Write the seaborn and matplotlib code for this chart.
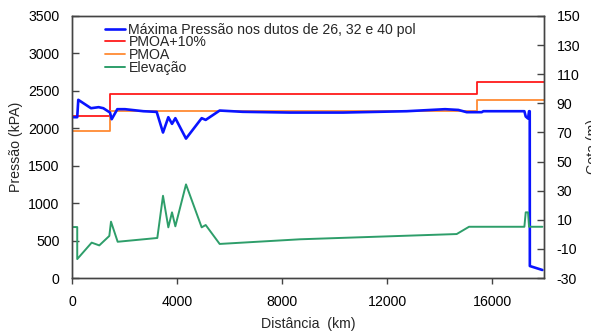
import matplotlib
matplotlib.use("Agg")
import matplotlib.pyplot as plt
import seaborn as sns
import pandas as pd

# Maximum pressure along the pipeline (kPa)
dist_p = [0, 200, 240, 724, 1016, 1194, 1448, 1512, 1727, 2019, 2717, 3226,
          3467, 3670, 3810, 3937, 4343, 4940, 5093, 5625, 6500, 8305, 10324,
          12750, 14210, 14717, 15036, 15607, 15670, 17232, 17283, 17371,
          17410, 17436, 17440, 17918]
pressure = [2148, 2148, 2380, 2268, 2282, 2268, 2210, 2121, 2255, 2255, 2228,
            2219, 1943, 2148, 2059, 2135, 1862, 2135, 2112, 2237, 2220, 2210,
            2210, 2228, 2255, 2245, 2215, 2215, 2228, 2228, 2157, 2130, 2228,
            2228, 160, 107]

# Maximum allowable operating pressure (stepwise) and +10 %
dist_step = [0, 1450, 1450, 15420, 15420, 17980]
pmoa = [1965, 1965, 2230, 2230, 2380, 2380]
pmoa10 = [2160, 2160, 2453, 2453, 2618, 2618]

# Terrain elevation (m)
dist_e = [0, 200, 200, 750, 1040, 1422, 1486, 1740, 3250, 3467, 3670, 3810,
          3937, 4343, 4940, 5093, 5625, 8686, 14654, 15124, 17232, 17283,
          17371, 17410, 17918]
elev = [5, 5, -17, -5.7, -7.6, -1.1, 8.7, -5.1, -2.5, 26.5, 4.8, 15.1, 5.5,
        34.3, 4.8, 6.4, -6.6, -3.4, 0.2, 5.2, 5.2, 15.1, 15.1, 5.2, 5.2]

x_ticks = [0, 4000, 8000, 12000, 16000]
left_ticks = [0, 500, 1000, 1500, 2000, 2500, 3000, 3500]
right_ticks = [-30, -10, 10, 30, 50, 70, 90, 110, 130, 150]

sns.set_theme(style="white")
plt.rcParams["font.family"] = ["Liberation Sans", "DejaVu Sans"]
plt.rcParams["axes.unicode_minus"] = False

FS = 10.2

fig = plt.figure(figsize=(5.91, 3.31), dpi=100)
ax = fig.add_axes([0.1218, 0.1601, 0.7987, 0.7916])
ax2 = ax.twinx()

df_p = pd.DataFrame({"d": dist_p, "v": pressure})
df_s = pd.DataFrame({"d": dist_step, "a": pmoa, "b": pmoa10})
df_e = pd.DataFrame({"d": dist_e, "v": elev})

blue, red, orange, green = "#0a14ff", "#ff1a1a", "#ff8a33", "#2e9e6a"

sns.lineplot(data=df_s, x="d", y="b", ax=ax, sort=False, color=red,
             linewidth=1.3, estimator=None)
sns.lineplot(data=df_s, x="d", y="a", ax=ax, sort=False, color=orange,
             linewidth=1.3, estimator=None)
sns.lineplot(data=df_p, x="d", y="v", ax=ax, sort=False, color=blue,
             linewidth=1.9, estimator=None)
sns.lineplot(data=df_e, x="d", y="v", ax=ax2, sort=False, color=green,
             linewidth=1.4, estimator=None)

ax.set_xlim(0, 17980)
ax.set_ylim(0, 3500)
ax2.set_ylim(-30, 150)
ax.set_xticks(x_ticks)
ax.set_yticks(left_ticks)
ax2.set_yticks(right_ticks)

spine_c = "#444444"
for a in (ax, ax2):
    for s in a.spines.values():
        s.set_color(spine_c)
        s.set_linewidth(1.0)
        s.set_visible(True)

ax.tick_params(axis="x", direction="out", length=4, width=1, color=spine_c,
               labelsize=FS, pad=8, labelcolor="black", bottom=True)
ax.tick_params(axis="y", direction="in", length=5, width=1, color=spine_c,
               labelsize=FS, pad=9, labelcolor="black", left=True)
ax2.tick_params(axis="y", direction="in", length=5, width=1, color=spine_c,
                labelsize=FS, pad=9, labelcolor="black", right=True)

ax.set_xlabel("Distância  (km)", fontsize=FS, labelpad=6)
ax.set_ylabel("Pressão (kPA)", fontsize=FS, labelpad=4)
ax2.set_ylabel("Cota (m)", fontsize=FS, labelpad=4)

handles = [
    plt.Line2D([], [], color=blue, linewidth=1.9),
    plt.Line2D([], [], color=red, linewidth=1.3),
    plt.Line2D([], [], color=orange, linewidth=1.3),
    plt.Line2D([], [], color=green, linewidth=1.4),
]
labels = ["Máxima Pressão nos dutos de 26, 32 e 40 pol", "PMOA+10%",
          "PMOA", "Elevação"]
ax2.legend(handles, labels, loc="upper left", bbox_to_anchor=(0.07, 0.975),
           frameon=False, fontsize=FS, handlelength=1.4, handletextpad=0.25,
           labelspacing=-0.08, borderpad=0, borderaxespad=0)

fig.savefig("out.png", dpi=100)
